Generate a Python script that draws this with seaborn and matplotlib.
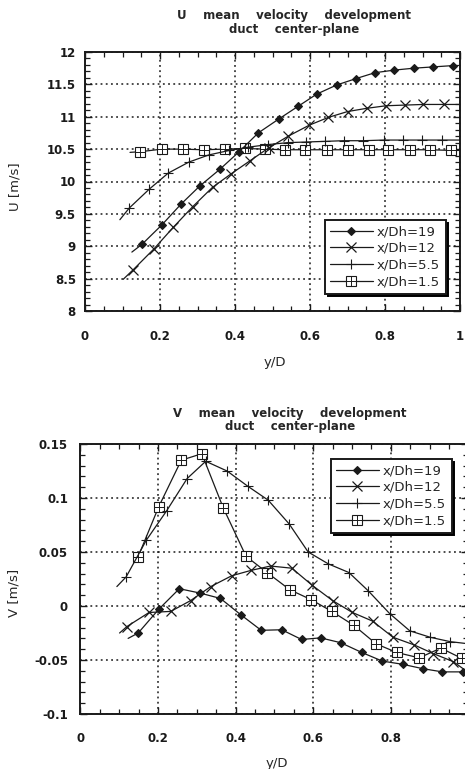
import numpy as np
import pandas as pd
import matplotlib
matplotlib.use("Agg")
import matplotlib.pyplot as plt
import seaborn as sns
from matplotlib.lines import Line2D
from matplotlib.ticker import MultipleLocator

# ---------------- data ----------------
SERIES_LABELS = ["x/Dh=19", "x/Dh=12", "x/Dh=5.5", "x/Dh=1.5"]

# U mean velocity [m/s] vs y/D
U19_x = [0.125, 0.152, 0.205, 0.256, 0.306, 0.36, 0.411, 0.462, 0.518, 0.568, 0.618, 0.671, 0.723, 0.773, 0.824, 0.877, 0.929, 0.981]
U19_y = [8.91, 9.03, 9.33, 9.65, 9.93, 10.19, 10.46, 10.75, 10.97, 11.16, 11.35, 11.49, 11.59, 11.68, 11.72, 11.75, 11.77, 11.79]
U12_x = [0.102, 0.129, 0.184, 0.235, 0.287, 0.34, 0.39, 0.44, 0.49, 0.542, 0.598, 0.649, 0.70, 0.751, 0.803, 0.853, 0.902, 0.956, 1.0]
U12_y = [8.49, 8.64, 8.96, 9.29, 9.61, 9.91, 10.12, 10.32, 10.52, 10.70, 10.87, 10.99, 11.08, 11.13, 11.17, 11.18, 11.19, 11.19, 11.19]
U55_x = [0.093, 0.118, 0.171, 0.222, 0.277, 0.33, 0.385, 0.435, 0.488, 0.54, 0.59, 0.64, 0.69, 0.742, 0.796, 0.849, 0.898, 0.951, 1.0]
U55_y = [9.41, 9.59, 9.88, 10.13, 10.30, 10.41, 10.48, 10.53, 10.57, 10.60, 10.61, 10.62, 10.63, 10.63, 10.64, 10.64, 10.64, 10.64, 10.64]
U15_x = [0.12, 0.147, 0.205, 0.26, 0.316, 0.372, 0.427, 0.48, 0.533, 0.587, 0.644, 0.70, 0.756, 0.809, 0.867, 0.92, 0.977, 1.0]
U15_y = [10.45, 10.46, 10.50, 10.50, 10.49, 10.50, 10.51, 10.50, 10.49, 10.49, 10.49, 10.49, 10.49, 10.49, 10.49, 10.49, 10.48, 10.48]

# V mean velocity [m/s] vs y/D
V19_x = [0.123, 0.149, 0.202, 0.255, 0.308, 0.361, 0.413, 0.466, 0.519, 0.57, 0.619, 0.671, 0.725, 0.778, 0.831, 0.882, 0.933, 0.985]
V19_y = [-0.030, -0.025, -0.003, 0.016, 0.012, 0.007, -0.008, -0.0225, -0.022, -0.031, -0.0295, -0.034, -0.043, -0.051, -0.054, -0.058, -0.061, -0.061]
V12_x = [0.101, 0.12, 0.177, 0.233, 0.284, 0.336, 0.39, 0.44, 0.49, 0.545, 0.598, 0.65, 0.701, 0.753, 0.806, 0.86, 0.909, 0.961, 0.99]
V12_y = [-0.025, -0.019, -0.006, -0.005, 0.005, 0.018, 0.028, 0.033, 0.037, 0.035, 0.019, 0.005, -0.006, -0.014, -0.029, -0.036, -0.044, -0.0515, -0.059]
V55_x = [0.094, 0.118, 0.17, 0.222, 0.275, 0.323, 0.378, 0.431, 0.484, 0.538, 0.587, 0.639, 0.692, 0.742, 0.797, 0.849, 0.902, 0.953, 1.0]
V55_y = [0.018, 0.027, 0.061, 0.088, 0.118, 0.134, 0.125, 0.111, 0.098, 0.076, 0.050, 0.039, 0.031, 0.014, -0.007, -0.023, -0.029, -0.033, -0.035]
V15_x = [0.148, 0.202, 0.26, 0.313, 0.368, 0.427, 0.481, 0.54, 0.594, 0.648, 0.705, 0.762, 0.815, 0.873, 0.929, 0.983, 1.0]
V15_y = [0.045, 0.092, 0.135, 0.141, 0.091, 0.046, 0.031, 0.015, 0.006, -0.005, -0.018, -0.035, -0.043, -0.048, -0.039, -0.0485, -0.049]

U_XTICKS = [0, 0.2, 0.4, 0.6, 0.8, 1]
U_XTICKLABELS = ["0", "0.2", "0.4", "0.6", "0.8", "1"]
V_XTICKS = [0, 0.2, 0.4, 0.6, 0.8]
V_XTICKLABELS = ["0", "0.2", "0.4", "0.6", "0.8"]
U_TICKS = [8, 8.5, 9, 9.5, 10, 10.5, 11, 11.5, 12]
U_TICKLABELS = ["8", "8.5", "9", "9.5", "10", "10.5", "11", "11.5", "12"]
V_TICKS = [-0.1, -0.05, 0, 0.05, 0.1, 0.15]
V_TICKLABELS = ["-0.1", "-0.05", "0", "0.05", "0.1", "0.15"]

TITLE_U = "U    mean    velocity    development\nduct    center-plane"
TITLE_V = "V    mean    velocity    development\nduct    center-plane"

# ---------------- style ----------------
sns.set_theme(context="paper", style="white")
plt.rcParams["font.family"] = ["DejaVu Sans"]
plt.rcParams["axes.edgecolor"] = "black"

W, H = 465, 769
fig = plt.figure(figsize=(W / 100, H / 100), dpi=100)


def axes_px(l, t, r, b):
    return fig.add_axes([l / W, 1 - b / H, (r - l) / W, (b - t) / H])


LW = 0.9
STYLE = {
    "19": dict(marker="D", markersize=4.5, markerfacecolor="k", markeredgecolor="k", markeredgewidth=0.8),
    "12": dict(marker="x", markersize=7.5, markerfacecolor="none", markeredgecolor="k", markeredgewidth=0.9),
    "55": dict(marker="+", markersize=6.5, markerfacecolor="none", markeredgecolor="k", markeredgewidth=0.8),
    "15": dict(marker="s", markersize=6.5, markerfacecolor="white", markeredgecolor="k", markeredgewidth=0.8),
}


def draw(ax, x, y, key, start_ext, end_ext):
    n = len(x)
    idx = list(range(1 if start_ext else 0, n - 1 if end_ext else n))
    df = pd.DataFrame({"x": x, "y": y})
    sns.lineplot(data=df, x="x", y="y", ax=ax, color="k", lw=LW, sort=False,
                 estimator=None, markevery=idx, **STYLE[key])
    if key == "15":
        xs = np.asarray(x)[idx]
        ys = np.asarray(y)[idx]
        ax.plot(xs, ys, ls="none", marker="+", markersize=6.5, color="k",
                markeredgewidth=0.7)


def style_axes(ax, xticks, xticklabels, ylim, yticks, yticklabels, yminor, xpad, ypad):
    ax.set_xticks(xticks, labels=xticklabels, fontsize=8.5, fontweight="bold")
    ax.set_yticks(yticks, labels=yticklabels, fontsize=8.5, fontweight="bold")
    ax.set_xlim(0, 1)
    ax.set_ylim(*ylim)
    ax.xaxis.set_minor_locator(MultipleLocator(0.05))
    ax.yaxis.set_minor_locator(MultipleLocator(yminor))
    ax.tick_params(which="both", direction="in", top=True, right=True,
                   bottom=True, left=True, colors="k")
    ax.tick_params(which="major", length=5, width=1)
    ax.tick_params(which="minor", length=3.5, width=0.9)
    ax.tick_params(axis="x", which="major", pad=xpad)
    ax.tick_params(axis="y", which="major", pad=ypad)
    ax.grid(True, which="major", color="k", ls=(0, (1.2, 2.2)), lw=1.1)
    ax.set_axisbelow(True)
    for sp in ax.spines.values():
        sp.set_visible(True)
        sp.set_color("k")
        sp.set_linewidth(1.4)


def legend(ax, left_px, top_px):
    hs = []
    for key in ["19", "12", "55"]:
        hs.append(Line2D([], [], color="k", lw=LW, **STYLE[key]))
    sq = Line2D([], [], color="k", lw=LW, **STYLE["15"])
    pl = Line2D([], [], ls="none", color="k", marker="+", markersize=6.5, markeredgewidth=0.7)
    hs.append((sq, pl))
    leg = ax.legend(hs, SERIES_LABELS, loc="upper left",
                    bbox_to_anchor=(left_px / W, 1 - top_px / H),
                    bbox_transform=fig.transFigure, borderaxespad=0,
                    fontsize=9.5, handlelength=3.2, handletextpad=0.35,
                    labelspacing=0.28, borderpad=0.4, numpoints=1,
                    fancybox=False, framealpha=1, edgecolor="k",
                    shadow={"color": "black", "alpha": 1})
    leg.get_frame().set_linewidth(1.4)
    return leg


# ---------------- top panel: U ----------------
axU = axes_px(85, 52, 460, 311)
draw(axU, U15_x, U15_y, "15", True, True)
draw(axU, U55_x, U55_y, "55", True, True)
draw(axU, U12_x, U12_y, "12", True, True)
draw(axU, U19_x, U19_y, "19", True, False)
style_axes(axU, U_XTICKS, U_XTICKLABELS, (8, 12), U_TICKS, U_TICKLABELS, 0.1, 13.5, 6.5)
axU.set_xlabel("y/D", fontsize=9.5)
axU.set_ylabel("U [m/s]", fontsize=9.5)
axU.xaxis.set_label_coords(0.507, -0.174)
axU.yaxis.set_label_coords(-0.168, 0.48)
legend(axU, 325, 220)
fig.text(294 / W, 1 - 36 / H, TITLE_U, ha="center", va="bottom",
         multialignment="center", fontsize=8.5, fontweight="bold", linespacing=1.05)

# ---------------- bottom panel: V ----------------
axV = axes_px(80.4, 444, 468.4, 714)
draw(axV, V15_x, V15_y, "15", False, True)
draw(axV, V55_x, V55_y, "55", True, True)
draw(axV, V12_x, V12_y, "12", True, True)
draw(axV, V19_x, V19_y, "19", True, False)
style_axes(axV, V_XTICKS, V_XTICKLABELS, (-0.1, 0.15), V_TICKS, V_TICKLABELS, 0.01, 13, 9)
axV.set_xlabel("y/D", fontsize=9.5)
axV.set_ylabel("V [m/s]", fontsize=9.5)
axV.xaxis.set_label_coords(0.507, -0.159)
axV.yaxis.set_label_coords(-0.155, 0.45)
legend(axV, 331, 459)
fig.text(290 / W, 1 - 433 / H, TITLE_V, ha="center", va="bottom",
         multialignment="center", fontsize=8.5, fontweight="bold", linespacing=1.05)

fig.savefig("out.png", dpi=100, facecolor="white")
